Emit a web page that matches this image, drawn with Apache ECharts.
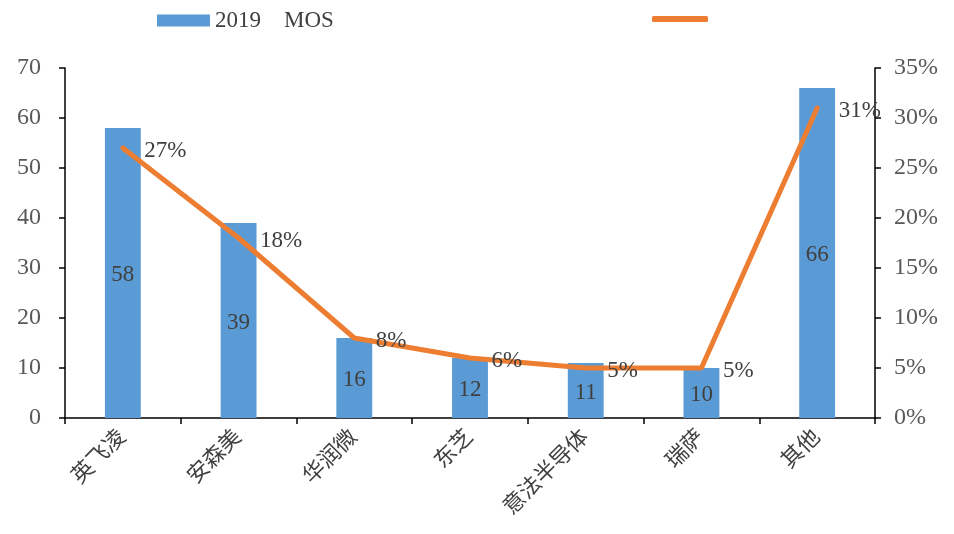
<!DOCTYPE html>
<html><head><meta charset="utf-8">
<script src="https://cdn.jsdelivr.net/npm/echarts@6/dist/echarts.min.js"></script>
<style>html,body{margin:0;padding:0;background:#fff}#c{width:954px;height:534px}</style>
</head><body><div id="c"></div>
<script>
const categories = ['英飞凌','安森美','华润微','东芝','意法半导体','瑞萨','其他'];
const revenue = [58, 39, 16, 12, 11, 10, 66];
const share = [0.27, 0.18, 0.08, 0.06, 0.05, 0.05, 0.31];
const barName = '2019    MOS';
const lineName = '份额';

const serif = '"Liberation Serif","Times New Roman",serif';
const cjk = '"Liberation Serif","Noto Sans CJK SC",serif';
const chart = echarts.init(document.getElementById('c'));
chart.setOption({
  animation: false,
  textStyle: {fontFamily: serif},
  legend: [
    {left: 152, top: 4, itemWidth: 53, itemHeight: 12, itemGap: 10,
     data: [{name: barName, icon: 'rect'}],
     textStyle: {fontFamily: serif, fontSize: 23, color: '#404040'}},
    {left: 647, top: 11, itemWidth: 56, itemHeight: 6,
     data: [{name: lineName, icon: 'roundRect'}],
     formatter: () => '',
     textStyle: {fontSize: 20}}
  ],
  grid: {left: 65, right: 79, top: 68, bottom: 116},
  xAxis: {
    type: 'category', data: categories,
    axisLine: {lineStyle: {color: '#000', width: 1.5}},
    axisTick: {show: true, alignWithLabel: false, length: 6, lineStyle: {color: '#000', width: 1.5}},
    axisLabel: {rotate: 45, fontSize: 22, color: '#404040', fontFamily: cjk, margin: 16}
  },
  yAxis: [
    {type: 'value', min: 0, max: 70, interval: 10,
     axisLine: {show: true, lineStyle: {color: '#000', width: 1.5}},
     axisTick: {show: true, length: 6, lineStyle: {color: '#000', width: 1.5}},
     splitLine: {show: false},
     axisLabel: {fontSize: 24, color: '#595959', margin: 24, fontFamily: serif}},
    {type: 'value', min: 0, max: 0.35, interval: 0.05,
     axisLine: {show: true, lineStyle: {color: '#000', width: 1.5}},
     axisTick: {show: true, length: 6, lineStyle: {color: '#000', width: 1.5}},
     splitLine: {show: false},
     axisLabel: {fontSize: 24, color: '#595959', margin: 19, fontFamily: serif,
       formatter: v => Math.round(v * 100) + '%'}}
  ],
  series: [
    {name: barName, type: 'bar', data: revenue, barWidth: '31%',
     itemStyle: {color: '#5B9BD5'},
     label: {show: true, position: 'inside', offset: [0, 2], fontSize: 23, color: '#404040', fontFamily: serif}},
    {name: lineName, type: 'line', yAxisIndex: 1, data: share,
     symbol: 'circle', symbolSize: 1, showSymbol: true,
     lineStyle: {color: '#ED7D31', width: 5, cap: 'round'},
     itemStyle: {color: '#ED7D31'},
     label: {show: true, position: 'right', distance: 2, offset: [19, 3], fontSize: 23, color: '#404040', fontFamily: serif,
       formatter: p => Math.round(p.value * 100) + '%'}}
  ]
});
</script></body></html>
